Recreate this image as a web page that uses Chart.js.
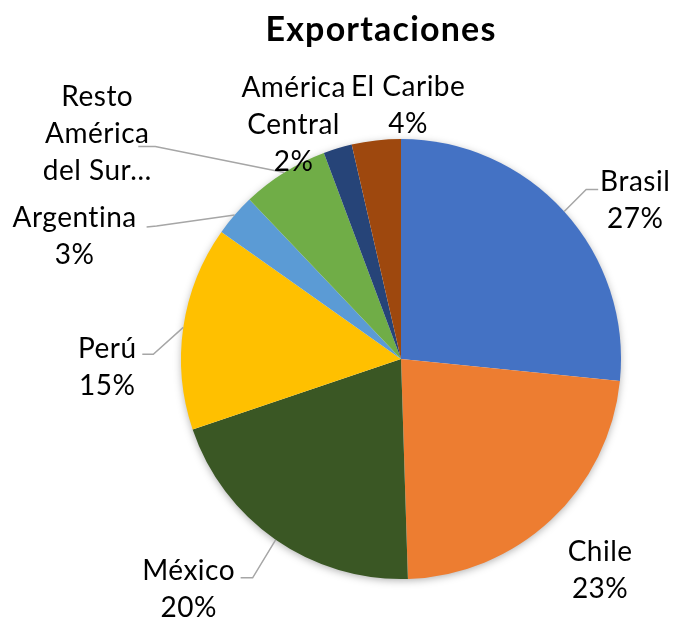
<!DOCTYPE html>
<html>
<head>
<meta charset="utf-8">
<script src="https://cdn.jsdelivr.net/npm/chart.js@4"></script>
<style>
  body { margin: 0; background: #fff; }
</style>
</head>
<body>
<canvas id="pie-chart" width="673" height="622"></canvas>
<script>
const ctx = document.getElementById("pie-chart");

const labels = ['Brasil', 'Chile', 'México', 'Perú', 'Argentina', 'Resto América del Sur', 'América Central', 'El Caribe'];
const values = [26.6, 22.9, 20.3, 15.0, 3.1, 6.4, 2.1, 3.6];
const colors = ['#4472C4', '#ED7D31', '#3A5724', '#FFC000', '#5B9BD5', '#70AD47', '#264478', '#9E480E'];

// label text lines (Excel cut the long one)
const labelLines = [
    ['Brasil'], ['Chile'], ['México'], ['Perú'], ['Argentina'],
    ['Resto', 'América', 'del Sur…'], ['América', 'Central'], ['El Caribe']
];
const showPct = [true, true, true, true, true, false, true, true];

// text offset + leader points, relative to the slice's outer mid point
const labelLayout = [
    { t: [71, -29], lead: [[22, -22], [34, -22]] },
    { t: [49, 32], lead: null },
    { t: [-87, 31], lead: [[-23, 38], [-35, 38]] },
    { t: [-76, 22], lead: [[-30, 27], [-41, 27]] },
    { t: [-160, 3], lead: [[-78, 11], [-88, 12]] },
    { t: [-187, -76], lead: [[-129, -26], [-146, -26]] },
    { t: [-44, -60], lead: null },
    { t: [32, -53], lead: null }
];

const FONT = 'Lato, "Noto Sans", sans-serif';

const shadowPlugin = {
    id: 'pieShadow',
    beforeDatasetsDraw(chart) {
        const arc = chart.getDatasetMeta(0).data[0];
        const c = chart.ctx;
        c.save();
        c.shadowColor = 'rgba(0,0,0,0.35)';
        c.shadowBlur = 8;
        c.shadowOffsetY = 2;
        c.fillStyle = '#fff';
        c.beginPath();
        c.arc(arc.x, arc.y, arc.outerRadius - 1, 0, Math.PI * 2);
        c.fill();
        c.restore();
    }
};

const labelPlugin = {
    id: 'outLabels',
    afterDatasetsDraw(chart) {
        const c = chart.ctx;
        const meta = chart.getDatasetMeta(0);
        const total = values.reduce((a, b) => a + b, 0);
        c.save();
        c.font = '28px ' + FONT;
        c.letterSpacing = '0.5px';
        c.fillStyle = '#000';
        c.textAlign = 'center';
        c.textBaseline = 'middle';
        meta.data.forEach((arc, i) => {
            const mid = (arc.startAngle + arc.endAngle) / 2;
            const px = arc.x + Math.cos(mid) * arc.outerRadius;
            const py = arc.y + Math.sin(mid) * arc.outerRadius;
            const lay = labelLayout[i];
            if (lay.lead) {
                c.strokeStyle = '#A6A6A6';
                c.lineWidth = 1.5;
                c.beginPath();
                c.moveTo(px, py);
                lay.lead.forEach(p => c.lineTo(px + p[0], py + p[1]));
                c.stroke();
            }
            let lines = labelLines[i].slice();
            if (showPct[i]) {
                lines.push(Math.round(values[i] / total * 100) + '%');
            }
            lines.forEach((txt, k) => {
                c.fillText(txt, px + lay.t[0], py + lay.t[1] + k * 37);
            });
        });
        c.restore();
    }
};

const titlePlugin = {
    id: 'fixedTitle',
    afterDraw(chart) {
        const c = chart.ctx;
        c.save();
        c.font = 'bold 34px ' + FONT;
        c.letterSpacing = '1.2px';
        c.fillStyle = '#000';
        c.textAlign = 'center';
        c.textBaseline = 'middle';
        c.fillText('Exportaciones', 381, 30);
        c.restore();
    }
};

const chart = new Chart(ctx, {
    type: 'pie',
    data: {
        labels: labels,
        datasets: [{
            data: values,
            backgroundColor: colors,
            borderWidth: 0,
            hoverOffset: 0
        }]
    },
    options: {
        responsive: false,
        animation: false,
        devicePixelRatio: 1,
        events: [],
        layout: {
            padding: { left: 181, right: 52, top: 139, bottom: 43 }
        },
        plugins: {
            legend: { display: false },
            tooltip: { enabled: false },
            title: { display: false }
        }
    },
    plugins: [shadowPlugin, labelPlugin, titlePlugin]
});
</script>
</body>
</html>
